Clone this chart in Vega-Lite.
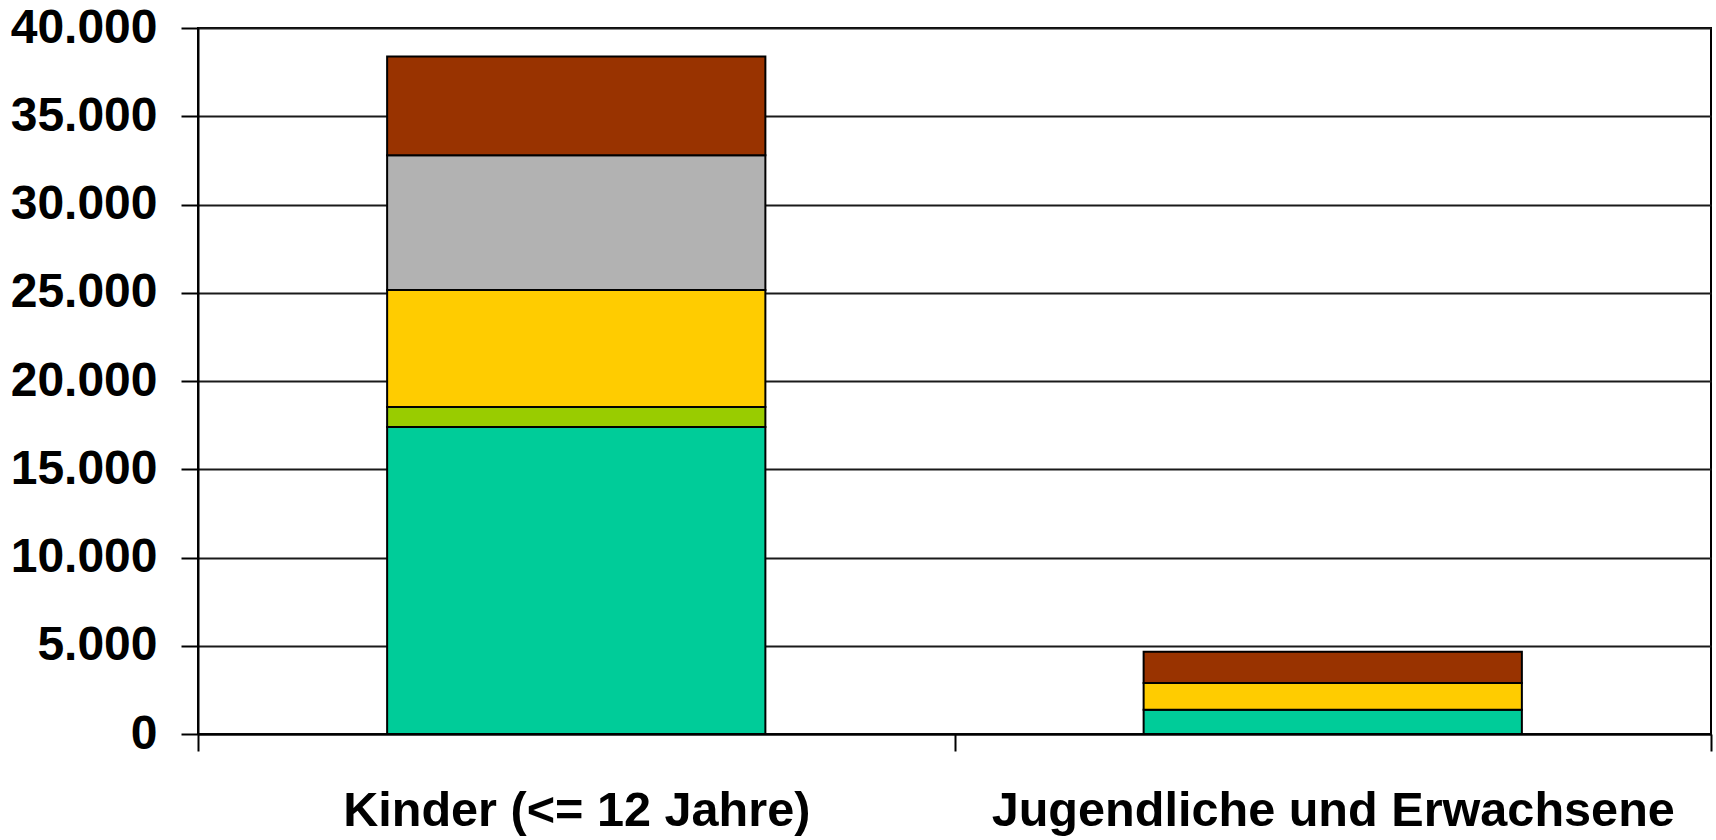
{
  "$schema": "https://vega.github.io/schema/vega-lite/v6.json",
  "autosize": "none",
  "width": 1513,
  "height": 706,
  "padding": {"left": 198, "top": 28, "right": 5, "bottom": 106},
  "background": "white",
  "data": {
    "values": [
      {"gruppe": "Kinder (<= 12 Jahre)", "kategorie": "Kategorie 1", "anzahl": 17400},
      {"gruppe": "Kinder (<= 12 Jahre)", "kategorie": "Kategorie 2", "anzahl": 1130},
      {"gruppe": "Kinder (<= 12 Jahre)", "kategorie": "Kategorie 3", "anzahl": 6620},
      {"gruppe": "Kinder (<= 12 Jahre)", "kategorie": "Kategorie 4", "anzahl": 7640},
      {"gruppe": "Kinder (<= 12 Jahre)", "kategorie": "Kategorie 5", "anzahl": 5600},
      {"gruppe": "Jugendliche und Erwachsene", "kategorie": "Kategorie 1", "anzahl": 1380},
      {"gruppe": "Jugendliche und Erwachsene", "kategorie": "Kategorie 3", "anzahl": 1510},
      {"gruppe": "Jugendliche und Erwachsene", "kategorie": "Kategorie 5", "anzahl": 1770}
    ]
  },
  "mark": {"type": "bar", "stroke": "black", "strokeWidth": 2, "width": {"band": 0.5}},
  "encoding": {
    "x": {
      "field": "gruppe",
      "type": "nominal",
      "sort": ["Kinder (<= 12 Jahre)", "Jugendliche und Erwachsene"],
      "scale": {"paddingInner": 0, "paddingOuter": 0},
      "axis": {
        "title": null,
        "labelAngle": 0,
        "labelLimit": 0,
        "tickBand": "extent",
        "tickSize": 17,
        "tickColor": "black",
        "tickWidth": 2,
        "domainColor": "black",
        "domainWidth": 2,
        "labelFont": "Liberation Sans",
        "labelFontWeight": "bold",
        "labelFontSize": 48.6,
        "labelColor": "black",
        "labelPadding": 36,
        "grid": false
      }
    },
    "y": {
      "field": "anzahl",
      "type": "quantitative",
      "aggregate": "sum",
      "stack": "zero",
      "scale": {"domain": [0, 40000], "nice": false},
      "axis": {
        "title": null,
        "values": [0, 5000, 10000, 15000, 20000, 25000, 30000, 35000, 40000],
        "format": ",d",
        "labelExpr": "replace(datum.label, ',', '.')",
        "labelLimit": 0,
        "tickSize": 17,
        "tickColor": "black",
        "tickWidth": 2,
        "domainColor": "black",
        "domainWidth": 2,
        "grid": true,
        "gridColor": "#1a1a1a",
        "gridWidth": 1.8,
        "gridOpacity": 1,
        "labelFont": "Liberation Sans",
        "labelFontWeight": "bold",
        "labelFontSize": 48,
        "labelColor": "black",
        "labelPadding": 24
      }
    },
    "color": {
      "field": "kategorie",
      "type": "nominal",
      "sort": ["Kategorie 1", "Kategorie 2", "Kategorie 3", "Kategorie 4", "Kategorie 5"],
      "scale": {
        "domain": ["Kategorie 1", "Kategorie 2", "Kategorie 3", "Kategorie 4", "Kategorie 5"],
        "range": ["#00CC99", "#99CC00", "#FFCC00", "#B2B2B2", "#993300"]
      },
      "legend": null
    },
    "order": {"field": "kategorie", "sort": "ascending"}
  },
  "config": {
    "view": {"stroke": "black", "strokeWidth": 2},
    "axis": {"labelOverlap": false}
  }
}
